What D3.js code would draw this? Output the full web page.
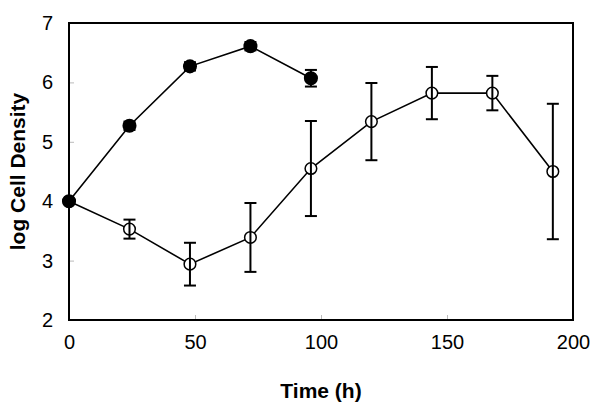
<!DOCTYPE html>
<html><head><meta charset="utf-8">
<script src="https://cdn.jsdelivr.net/npm/d3@7"></script>
<style>body{margin:0;background:#fff}</style>
</head><body>
<svg id="c" width="600" height="414"></svg>
<script>
// Data
const filledTime = [0, 24, 48, 72, 96];
const filledValue = [4.0, 5.27, 6.27, 6.61, 6.07];
const filledErr = [0.03, 0.07, 0.07, 0.07, 0.14];
const openTime = [0, 24, 48, 72, 96, 120, 144, 168, 192];
const openValue = [4.0, 3.53, 2.94, 3.39, 4.55, 5.34, 5.82, 5.82, 4.50];
const openErr = [0.0, 0.16, 0.36, 0.58, 0.80, 0.65, 0.44, 0.29, 1.14];
const xTicks = [0, 50, 100, 150, 200];
const yTicks = [2, 3, 4, 5, 6, 7];
const xTitle = "Time (h)";
const yTitle = "log Cell Density";

const svg = d3.select("#c");
const L = 69, R = 573, T = 23, B = 320;
const x = d3.scaleLinear().domain([0, 200]).range([L, R]);
const y = d3.scaleLinear().domain([2, 7]).range([B, T]);
const font = "Liberation Sans, Arial, sans-serif";

// inward grey ticks
const xAxis = svg.append("g").attr("transform", `translate(0,${B})`)
  .call(d3.axisBottom(x).tickValues(xTicks).tickSize(-5).tickPadding(14).tickFormat(d3.format("d")));
xAxis.select(".domain").remove();
xAxis.selectAll(".tick line").attr("stroke", "#bbb").attr("stroke-width", 1);
xAxis.selectAll(".tick text").attr("font-family", font).attr("font-size", 20).attr("fill", "#000").attr("dy", "0.71em").attr("y", 15);

const yAxis = svg.append("g").attr("transform", `translate(${L},0)`)
  .call(d3.axisLeft(y).tickValues(yTicks).tickSize(-5).tickPadding(16).tickFormat(d3.format("d")));
yAxis.select(".domain").remove();
yAxis.selectAll(".tick line").attr("stroke", "#bbb").attr("stroke-width", 1);
yAxis.selectAll(".tick text").attr("font-family", font).attr("font-size", 20).attr("fill", "#000").attr("x", -16);

// frame
svg.append("rect").attr("x", L).attr("y", T).attr("width", R - L).attr("height", B - T)
  .attr("fill", "none").attr("stroke", "#000").attr("stroke-width", 2);

function series(times, vals, errs, filled) {
  const data = times.map((t, i) => ({t, v: vals[i], e: errs[i]}));
  const g = svg.append("g");
  g.append("path").datum(data)
    .attr("d", d3.line().x(d => x(d.t)).y(d => y(d.v)))
    .attr("fill", "none").attr("stroke", "#000").attr("stroke-width", 1.6);
  g.selectAll("circle").data(data).join("circle")
    .attr("cx", d => x(d.t)).attr("cy", d => y(d.v))
    .attr("r", filled ? 6.3 : 5.8)
    .attr("fill", filled ? "#000" : "#fff")
    .attr("stroke", "#000").attr("stroke-width", 1.5);
  const eb = g.selectAll(".eb").data(data.filter(d => d.e > 0)).join("g");
  eb.append("line").attr("x1", d => x(d.t)).attr("x2", d => x(d.t))
    .attr("y1", d => y(d.v - d.e)).attr("y2", d => y(d.v + d.e))
    .attr("stroke", "#000").attr("stroke-width", 2);
  [1, -1].forEach(s => {
    eb.append("line").attr("x1", d => x(d.t) - 6).attr("x2", d => x(d.t) + 6)
      .attr("y1", d => y(d.v + s * d.e)).attr("y2", d => y(d.v + s * d.e))
      .attr("stroke", "#000").attr("stroke-width", 2);
  });
}
series(openTime, openValue, openErr, false);
series(filledTime, filledValue, filledErr, true);

svg.append("text").attr("x", (L + R) / 2).attr("y", 398)
  .attr("text-anchor", "middle").attr("font-family", font).attr("font-weight", "bold")
  .attr("font-size", 21).text(xTitle);
svg.append("text").attr("transform", `translate(25,${(T + B) / 2}) rotate(-90)`)
  .attr("text-anchor", "middle").attr("font-family", font).attr("font-weight", "bold")
  .attr("font-size", 21).text(yTitle);
</script>
</body></html>
